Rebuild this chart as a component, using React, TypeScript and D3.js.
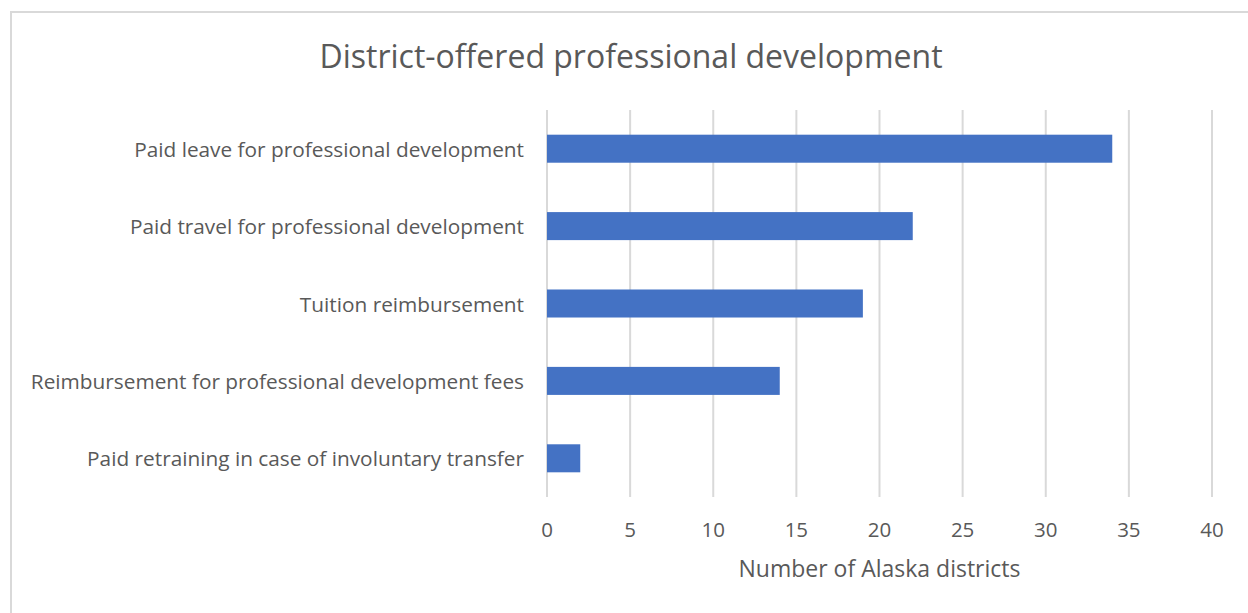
import React from "react";
import * as d3 from "d3";

const categories = [
  "Paid leave for professional development",
  "Paid travel for professional development",
  "Tuition reimbursement",
  "Reimbursement for professional development fees",
  "Paid retraining in case of involuntary transfer",
];
const values = [34, 22, 19, 14, 2];
const xTicks = [0, 5, 10, 15, 20, 25, 30, 35, 40];
const title = "District-offered professional development";
const xTitle = "Number of Alaska districts";

const W = 1248;
const H = 613;
const FONT = "'Open Sans', 'Noto Sans', sans-serif";
const TEXT = "#595959";

export default function App() {
  const x = d3.scaleLinear().domain([0, 40]).range([547, 1212]);
  const y = d3
    .scaleBand<string>()
    .domain(categories)
    .range([110, 497])
    .paddingInner(0.638)
    .paddingOuter(0.319);

  return (
    <svg
      width={W}
      height={H}
      style={{ position: "absolute", left: 0, top: 0, background: "#fff" }}
    >
      <rect x={11} y={12} width={W + 20} height={H + 20} fill="#fff" stroke="#D9D9D9" strokeWidth={2} />
      <text x={631} y={55} textAnchor="middle" dominantBaseline="central" fontFamily={FONT} fontSize={32} fill={TEXT}>
        {title}
      </text>
      {xTicks.map((t) => (
        <g key={t}>
          <line x1={x(t)} x2={x(t)} y1={110} y2={497} stroke="#D9D9D9" strokeWidth={2} />
          <text x={x(t)} y={529} textAnchor="middle" dominantBaseline="central" fontFamily={FONT} fontSize={20.5} fill={TEXT}>
            {t}
          </text>
        </g>
      ))}
      {categories.map((c, i) => (
        <g key={c}>
          <rect x={x(0)} y={y(c)!} width={x(values[i]) - x(0)} height={y.bandwidth()} fill="#4472C4" />
          <text
            x={524}
            y={y(c)! + y.bandwidth() / 2}
            textAnchor="end"
            dominantBaseline="central"
            fontFamily={FONT}
            fontSize={20.8}
            fill={TEXT}
          >
            {c}
          </text>
        </g>
      ))}
      <text x={(x(0) + x(40)) / 2} y={568} textAnchor="middle" dominantBaseline="central" fontFamily={FONT} fontSize={23} fill={TEXT}>
        {xTitle}
      </text>
    </svg>
  );
}
